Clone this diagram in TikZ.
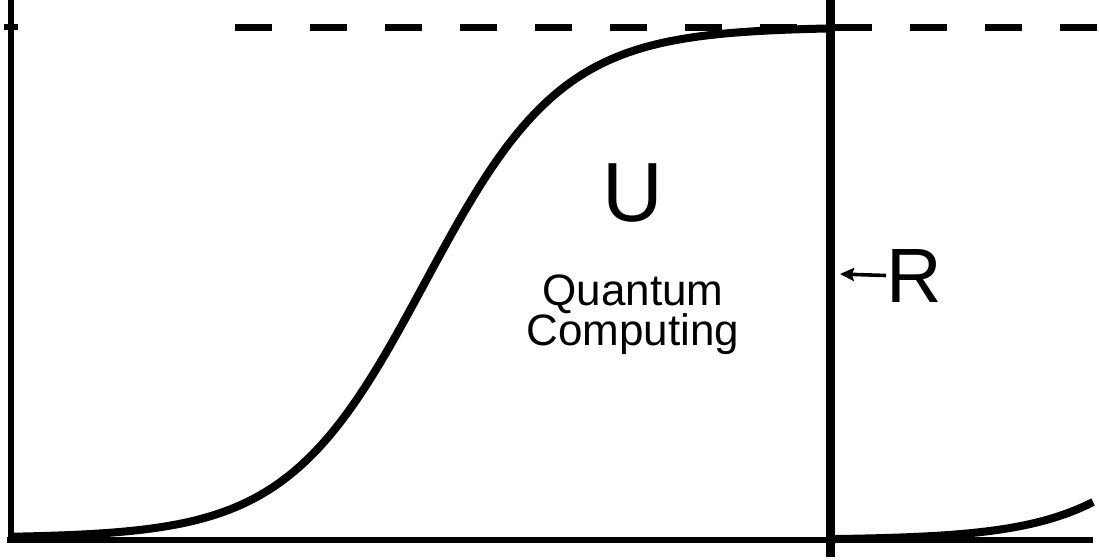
\documentclass[tikz,border=0pt]{standalone}
\usepackage{fontspec}
\setmainfont{Liberation Sans}
\usetikzlibrary{arrows.meta}

\begin{document}
\begin{tikzpicture}[x=1pt, y=-1pt,
        axisline/.style={line width=6.5pt},
        sigmoid/.style={line width=8pt},
        txt/.style={inner sep=0pt, anchor=base}]
    \useasboundingbox (0,0) rectangle (1099,559);
    \draw[axisline] (11,0) -- (11,543);
    \draw[axisline] (7,540) -- (1093,540);
    \draw[axisline] (4,27) -- (18,27);
    \draw[line width=7pt, dash pattern=on 37pt off 38pt] (235,28) -- (1099,28);
    \draw[sigmoid] plot[domain=10:830, samples=200] (\x, {538-511/(1+exp(-(\x-425)/69))});
    \draw[sigmoid] plot[domain=830:1093, samples=80] (\x, {540-511/(1+exp(-(\x-1267)/69))});
    \draw[line width=9pt] (830,0) -- (830,557);
    \node[txt, font=\fontsize{84}{84}\selectfont] (ulab) at (633,221) {U};
    \node[txt, font=\fontsize{44}{44}\selectfont] (quantum) at (633,305) {Quantum};
    \node[txt, font=\fontsize{44}{44}\selectfont] (computing) at (633,345) {Computing};
    \node[txt, font=\fontsize{77}{77}\selectfont] (rlab) at (914,302) {R};
    \coordinate (rtip) at (840,274);
    \draw[line width=3.6pt, -{Stealth[length=14pt, width=13pt, inset=2pt]}] (rlab.west) -- (rtip);
\end{tikzpicture}
\end{document}
